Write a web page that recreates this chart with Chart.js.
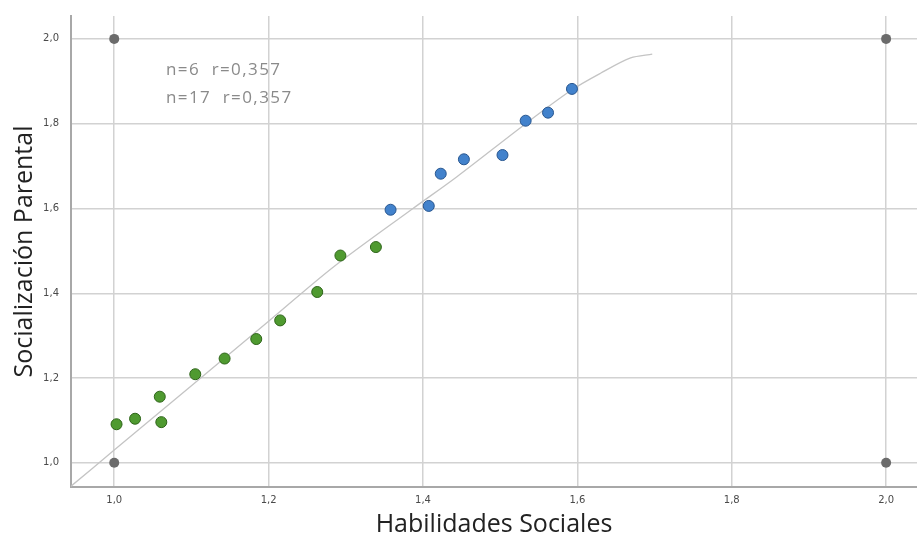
<!DOCTYPE html>
<html><head><meta charset="utf-8">
<script src="https://cdn.jsdelivr.net/npm/chart.js@4"></script>
<style>html,body{margin:0;padding:0;background:#fff}#wrap{width:917px;height:538px}</style>
</head><body><div id="wrap"><canvas id="c" width="917" height="538"></canvas></div>
<script>
const xTicks = [1.0, 1.2, 1.4, 1.6, 1.8, 2.0];
const yTicks = [1.0, 1.2, 1.4, 1.6, 1.8, 2.0];
const greenX = [1.003, 1.027, 1.059, 1.061, 1.105, 1.143, 1.184, 1.215, 1.263, 1.293, 1.339];
const greenY = [1.091, 1.104, 1.156, 1.096, 1.209, 1.246, 1.292, 1.336, 1.403, 1.489, 1.509];
const blueX = [1.358, 1.4075, 1.423, 1.453, 1.503, 1.533, 1.562, 1.593];
const blueY = [1.597, 1.606, 1.682, 1.716, 1.726, 1.807, 1.826, 1.882];
const cornerX = [1.0, 2.0, 1.0, 2.0];
const cornerY = [2.0, 2.0, 1.0, 1.0];
const fitX = [0.944, 1.0, 1.2, 1.284, 1.387, 1.444, 1.533, 1.593, 1.63, 1.669, 1.697];
const fitY = [0.945, 1.03, 1.334, 1.462, 1.6, 1.675, 1.80, 1.88, 1.919, 1.955, 1.964];
const notes = ["n=6  r=0,357", "n=17  r=0,357"];
const noteX = [1.067, 1.067];
const noteY = [1.926, 1.861];

const pts = (xs, ys) => xs.map((x, i) => ({x, y: ys[i]}));

const notePlugin = {
  id: 'notes',
  afterDatasetsDraw(chart) {
    const {ctx, scales: {x, y}} = chart;
    ctx.save();
    ctx.font = '17px "Open Sans"';
    try { ctx.letterSpacing = '1.4px'; } catch (e) {}
    ctx.fillStyle = '#8a8a8a';
    ctx.textBaseline = 'middle';
    ctx.textAlign = 'left';
    notes.forEach((t, i) => ctx.fillText(t, x.getPixelForValue(noteX[i]), y.getPixelForValue(noteY[i])));
    ctx.restore();
  }
};

const fmt = v => Number(v).toFixed(1).replace('.', ',');

new Chart(document.getElementById('c'), {
  type: 'scatter',
  data: {
    datasets: [
      {data: pts(fitX, fitY), showLine: true, pointRadius: 0, borderColor: '#c4c4c4', borderWidth: 1.3, tension: 0.3, order: 3},
      {data: pts(cornerX, cornerY), pointRadius: 5, backgroundColor: '#6b6b6b', borderColor: '#6b6b6b', borderWidth: 0, order: 2},
      {data: pts(greenX, greenY), pointRadius: 5.5, backgroundColor: '#4f9a30', borderColor: '#2e6419', borderWidth: 1, order: 1},
      {data: pts(blueX, blueY), pointRadius: 5.5, backgroundColor: '#4282cc', borderColor: '#28568f', borderWidth: 1, order: 1}
    ]
  },
  options: {
    responsive: false,
    animation: false,
    layout: {autoPadding: false, padding: {top: 16, right: 0, left: 0, bottom: 0}},
    plugins: {legend: {display: false}, tooltip: {enabled: false}},
    scales: {
      x: {
        type: 'linear', min: 0.944, max: 2.04,
        afterBuildTicks: s => { s.ticks = xTicks.map(v => ({value: v})); },
        afterFit: s => { s.height = 51; s.paddingRight = 0; s.paddingLeft = 0; },
        grid: {color: '#d2d2d2', lineWidth: 1.5, drawTicks: false},
        border: {color: '#a8a8a8', width: 2},
        ticks: {callback: fmt, color: '#4a4a4a', font: {family: 'DejaVu Sans', size: 10}, padding: 7, maxRotation: 0},
        title: {display: true, text: 'Habilidades Sociales', color: '#222', font: {family: 'Open Sans', size: 25, lineHeight: 1}, padding: {bottom: 1}}
      },
      y: {
        type: 'linear', min: 0.943, max: 2.054,
        afterBuildTicks: s => { s.ticks = yTicks.map(v => ({value: v})); },
        afterFit: s => { s.width = 71; s.paddingTop = 0; s.paddingBottom = 0; },
        grid: {color: '#d2d2d2', lineWidth: 1.5, drawTicks: false},
        border: {color: '#a8a8a8', width: 2},
        ticks: {callback: fmt, color: '#4a4a4a', font: {family: 'DejaVu Sans', size: 10}, padding: 12},
        title: {display: true, text: 'Socialización Parental', color: '#222', font: {family: 'Open Sans', size: 25, lineHeight: 1}, padding: {top: 12}}
      }
    }
  },
  plugins: [notePlugin]
});
</script></body></html>
